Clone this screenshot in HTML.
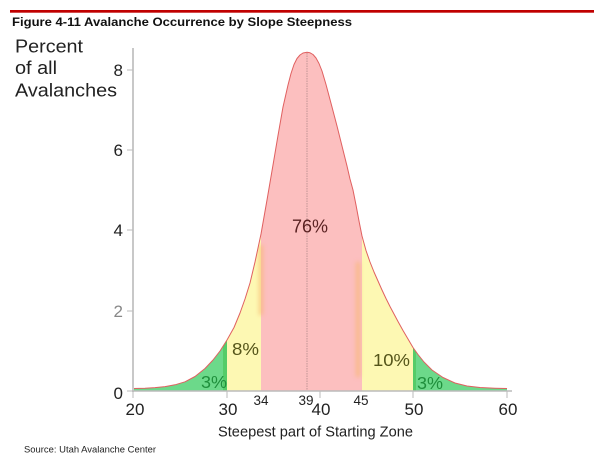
<!DOCTYPE html>
<html><head><meta charset="utf-8"><style>
html,body{margin:0;padding:0;background:#fff;}
svg{display:block;}
text{font-family:"Liberation Sans",sans-serif;}
</style></head><body>
<svg width="602" height="466" viewBox="0 0 602 466" xmlns="http://www.w3.org/2000/svg">
<defs>
<clipPath id="under">
<path d="M133,390.5 L133,388.5 L145,388.2 L155,387.6 L165,386.6 L175,384.8 L185,381.8 L195,376.5 L205,368.5 L213,360 L220,351 L227,340 L234,327.5 L240,313 L245,299 L250,283 L255,262 L261,234 L264,217 L267,200 L270,182.5 L273,165 L278,135.5 L283,107 L288,85 L291,73.5 L294,64.5 L297,58.5 L300,55 L303,53 L307,52.3 L310,52.8 L313,54.5 L316,58 L319,63.5 L322,71 L326,84.5 L332,107 L337,126 L343,150 L347,166 L350,179 L353,190 L356,205 L359,221 L362,236 L366,250.5 L370,262 L374,272 L378,281 L382,290 L386,298.5 L390,306.5 L394,314 L398,321.5 L403,330.5 L408,339 L413,347.5 L418,354.5 L424,362 L432,370 L443,377.5 L455,383 L467,386 L480,387.5 L495,388.2 L507,388.5 L507,390.5 Z"/>
</clipPath>
<filter id="bl" x="-3" y="-1" width="7" height="3"><feGaussianBlur stdDeviation="2"/></filter>
</defs>

<rect x="10" y="10" width="584" height="2.7" fill="#c00000"/>
<text x="12" y="26" font-size="12.3" font-weight="bold" fill="#111" textLength="340" lengthAdjust="spacingAndGlyphs">Figure 4-11  Avalanche Occurrence by Slope Steepness</text>

<text x="15" y="52.5" font-size="18.5" fill="#222" textLength="68" lengthAdjust="spacingAndGlyphs">Percent</text>
<text x="15" y="74" font-size="18.5" fill="#222" textLength="42" lengthAdjust="spacingAndGlyphs">of all</text>
<text x="15" y="96.5" font-size="18.5" fill="#222" textLength="102" lengthAdjust="spacingAndGlyphs">Avalanches</text>

<g clip-path="url(#under)">
<rect x="133" y="40" width="94" height="352" fill="#6cd98a"/>
<rect x="223" y="40" width="4" height="352" fill="#55cc68"/>
<rect x="227" y="40" width="34" height="352" fill="#fdf8b3"/>
<rect x="261" y="40" width="101" height="352" fill="#fcbfbf"/>
<rect x="362" y="40" width="51" height="352" fill="#fdf8b3"/>
<rect x="413" y="40" width="94" height="352" fill="#6cd98a"/>
<rect x="413" y="40" width="3" height="352" fill="#55cc68"/>
<rect x="259" y="245" width="4" height="70" fill="#f8b870" filter="url(#bl)" opacity="0.7"/>
<rect x="356" y="262" width="4" height="115" fill="#f8b870" filter="url(#bl)" opacity="0.7"/>
</g>

<path d="M133,388.5 L145,388.2 L155,387.6 L165,386.6 L175,384.8 L185,381.8 L195,376.5 L205,368.5 L213,360 L220,351 L227,340 L234,327.5 L240,313 L245,299 L250,283 L255,262 L261,234 L264,217 L267,200 L270,182.5 L273,165 L278,135.5 L283,107 L288,85 L291,73.5 L294,64.5 L297,58.5 L300,55 L303,53 L307,52.3 L310,52.8 L313,54.5 L316,58 L319,63.5 L322,71 L326,84.5 L332,107 L337,126 L343,150 L347,166 L350,179 L353,190 L356,205 L359,221 L362,236 L366,250.5 L370,262 L374,272 L378,281 L382,290 L386,298.5 L390,306.5 L394,314 L398,321.5 L403,330.5 L408,339 L413,347.5 L418,354.5 L424,362 L432,370 L443,377.5 L455,383 L467,386 L480,387.5 L495,388.2 L507,388.5" fill="none" stroke="#e06060" stroke-width="1" stroke-linejoin="round"/>

<line x1="307" y1="53" x2="307" y2="390" stroke="#b08a8a" stroke-width="0.8" stroke-dasharray="1.5,1"/>

<!-- axes -->
<line x1="133" y1="48" x2="133" y2="392" stroke="#c8c8c8" stroke-width="2"/>
<line x1="132" y1="391" x2="512" y2="391" stroke="#bbbbbb" stroke-width="1.5"/>
<g stroke="#bbbbbb" stroke-width="1">
<line x1="127" y1="70" x2="133" y2="70"/>
<line x1="127" y1="150" x2="133" y2="150"/>
<line x1="127" y1="230" x2="133" y2="230"/>
<line x1="127" y1="311" x2="133" y2="311"/>
<line x1="127" y1="391" x2="133" y2="391"/>
<line x1="133" y1="391" x2="133" y2="398"/>
<line x1="227" y1="391" x2="227" y2="398"/>
<line x1="320" y1="391" x2="320" y2="398"/>
<line x1="413" y1="391" x2="413" y2="398"/>
<line x1="507" y1="391" x2="507" y2="398"/>
</g>

<g font-size="17" text-anchor="end">
<text x="123" y="76" fill="#222">8</text>
<text x="123" y="156" fill="#222">6</text>
<text x="123" y="236" fill="#222">4</text>
<text x="123" y="317" fill="#888">2</text>
<text x="123" y="399" fill="#222">0</text>
</g>

<g font-size="17" text-anchor="middle" fill="#222">
<text x="135" y="415">20</text>
<text x="228" y="415">30</text>
<text x="321" y="415">40</text>
<text x="414" y="415">50</text>
<text x="508" y="415">60</text>
</g>
<g font-size="13.5" text-anchor="middle" fill="#222">
<text x="261" y="405">34</text>
<text x="306" y="405">39</text>
<text x="361" y="405">45</text>
</g>

<text x="218" y="436.5" font-size="14.5" fill="#222" textLength="195" lengthAdjust="spacingAndGlyphs">Steepest part of Starting Zone</text>

<text x="292" y="232.5" font-size="18.5" fill="#5a2222" textLength="36" lengthAdjust="spacingAndGlyphs">76%</text>
<text x="232" y="355" font-size="17.5" fill="#55551a" textLength="27" lengthAdjust="spacingAndGlyphs">8%</text>
<text x="201" y="388" font-size="17.5" fill="#1f8f3c" textLength="26" lengthAdjust="spacingAndGlyphs">3%</text>
<text x="373" y="366" font-size="17.5" fill="#55551a" textLength="37" lengthAdjust="spacingAndGlyphs">10%</text>
<text x="417" y="389" font-size="17.5" fill="#1f8f3c" textLength="26" lengthAdjust="spacingAndGlyphs">3%</text>

<text x="24" y="452.7" font-size="8.8" fill="#222" textLength="132" lengthAdjust="spacingAndGlyphs">Source: Utah Avalanche Center</text>
</svg>
</body></html>
